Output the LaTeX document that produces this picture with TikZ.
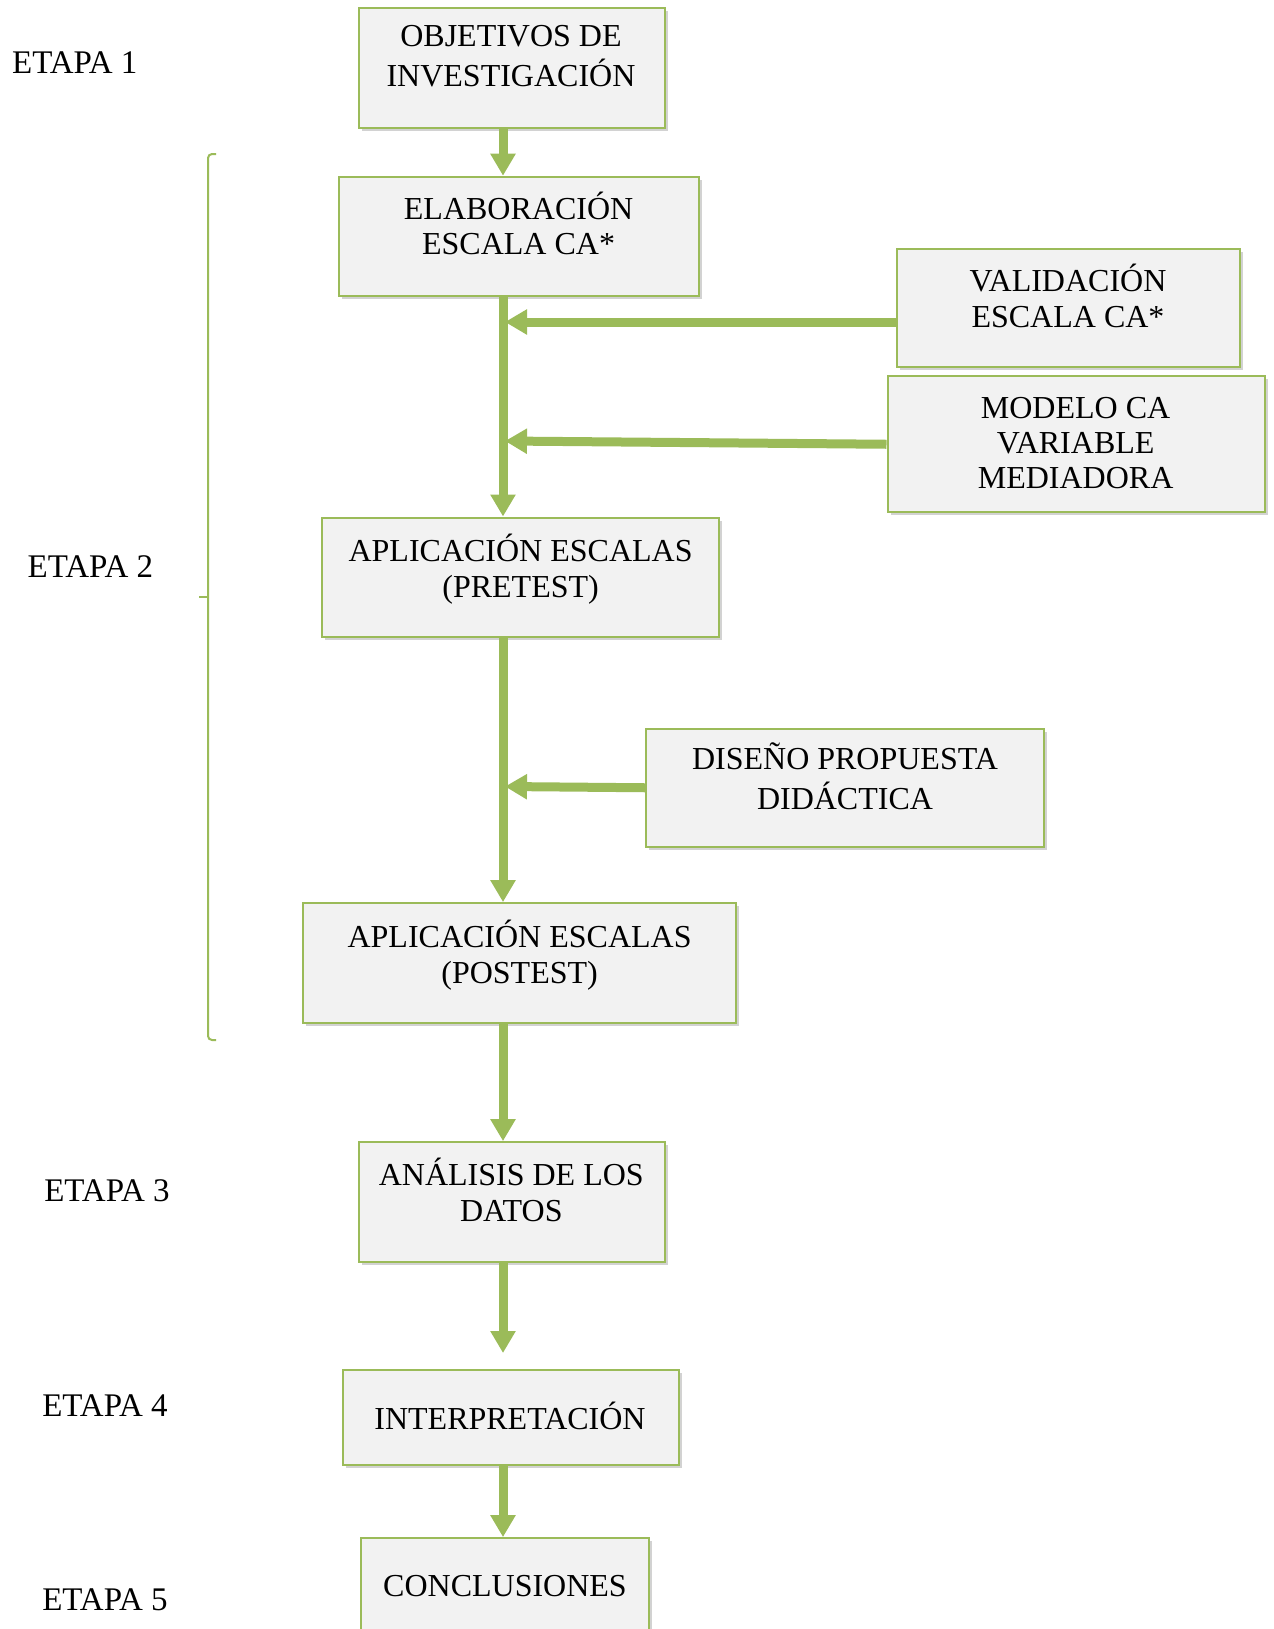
\documentclass[tikz,border=0pt]{standalone}
\usepackage{fontspec}
\setmainfont{Liberation Serif}
\usetikzlibrary{arrows.meta,shadows,fit}
\definecolor{leafgreen}{HTML}{9BBB59}
\definecolor{boxfill}{HTML}{F2F2F2}

\tikzset{
  stagebox/.style={draw=leafgreen, line width=1pt, fill=boxfill, inner sep=0pt,
    drop shadow={shadow xshift=1.5pt, shadow yshift=-1.5pt, opacity=0.25, fill=black!70}},
  boxtext/.style={font=\fontsize{16}{17.6}\selectfont, align=center, inner sep=0pt, text=black},
  etapa/.style={font=\fontsize{16.5}{18}\selectfont, inner sep=0pt},
  flow/.style={draw=leafgreen, line width=4.5pt, -{Triangle[width=12pt,length=11pt]}},
  bracket/.style={draw=leafgreen, line width=1pt},
}

\begin{document}
\begin{tikzpicture}[x=0.5pt, y=-0.5pt]
  \useasboundingbox (0,0) rectangle (1274,1629);
  \clip (0,0) rectangle (1274,1629);

  % stage boxes
  \node[stagebox, fit={(358.5,8.3) (665.1,127.8)}] (obj) {};
  \node[stagebox, fit={(338.8,176.7) (699.4,296.2)}] (elab) {};
  \node[stagebox, fit={(896.8,249.4) (1239.8,366.8)}] (valid) {};
  \node[stagebox, fit={(887.5,376.2) (1264.7,512.3)}] (modelo) {};
  \node[stagebox, fit={(322.2,517.5) (719.1,637.0)}] (pre) {};
  \node[stagebox, fit={(646.4,728.5) (1044.4,847.0)}] (diseno) {};
  \node[stagebox, fit={(303.4,903.1) (735.8,1022.6)}] (post) {};
  \node[stagebox, fit={(358.5,1142.1) (665.1,1261.6)}] (anal) {};
  \node[stagebox, fit={(342.9,1369.7) (678.6,1465.3)}] (interp) {};
  \node[stagebox, fit={(360.6,1538.1) (648.5,1660)}] (concl) {};

  % box texts
  \node[boxtext] (objt) at (511,59) {\strut OBJETIVOS DE\\\strut INVESTIGACIÓN};
  \node[boxtext] (elabt) at (518.6,228.5) {\strut ELABORACIÓN\\\strut ESCALA CA*};
  \node[boxtext] (validt) at (1068,301) {\strut VALIDACIÓN\\\strut ESCALA CA*};
  \node[boxtext] (modelot) at (1075.6,446.5) {\strut MODELO CA\\\strut VARIABLE\\\strut MEDIADORA};
  \node[boxtext] (pret) at (520.6,571) {\strut APLICACIÓN ESCALAS\\\strut (PRETEST)};
  \node[boxtext] (disenot) at (845,781.5) {\strut DISEÑO PROPUESTA\\\strut DIDÁCTICA};
  \node[boxtext] (postt) at (519.6,957) {\strut APLICACIÓN ESCALAS\\\strut (POSTEST)};
  \node[boxtext] (analt) at (511.3,1195) {\strut ANÁLISIS DE LOS\\\strut DATOS};
  \node[boxtext] (interpt) at (510,1421) {\strut INTERPRETACIÓN};
  \node[boxtext] (conclt) at (505,1589.5) {\strut CONCLUSIONES};

  % stage labels
  \node[etapa] (e1) at (74.8,62.4) {ETAPA 1};
  \node[etapa] (e2) at (90.4,566.4) {ETAPA 2};
  \node[etapa] (e3) at (107,1191) {ETAPA 3};
  \node[etapa] (e4) at (105,1406) {ETAPA 4};
  \node[etapa] (e5) at (105,1600) {ETAPA 5};

  % bracket grouping stage 2
  \draw[bracket, rounded corners=2] (216,154) -- (208,154) -- (208,1040) -- (216,1040);
  \draw[bracket] (199,597) -- (208,597);

  % main flow
  \coordinate (axis) at (503,0);
  \coordinate (gap) at (503,1353);
  \draw[flow] (obj.south -| axis) -- (elab.north -| axis);
  \draw[flow] (elab.south -| axis) -- (pre.north -| axis);
  \draw[flow] (pre.south -| axis) -- (post.north -| axis);
  \draw[flow] (post.south -| axis) -- (anal.north -| axis);
  \draw[flow] (anal.south -| axis) -- (gap);
  \draw[flow] (interp.south -| axis) -- (concl.north -| axis);

  % side inputs
  \coordinate (j1) at (505,322);
  \coordinate (j2) at (505,441);
  \coordinate (j3) at (505,786.5);
  \draw[flow] (valid.west |- j1) -- (j1);
  \draw[flow] (modelo.west) -- (j2);
  \draw[flow] (diseno.west) -- (j3);
\end{tikzpicture}
\end{document}
